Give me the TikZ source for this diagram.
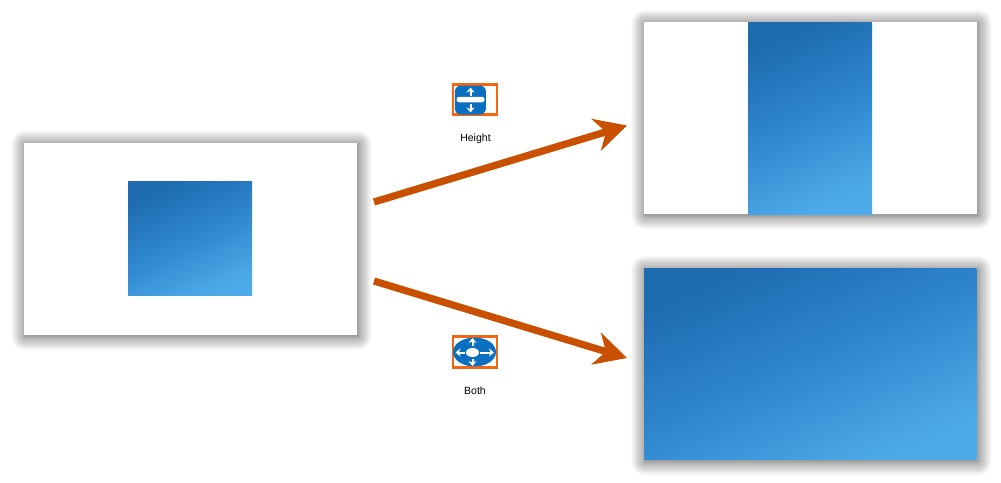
\documentclass[tikz,border=0pt]{standalone}
\usepackage{fontspec}
\setmainfont{Liberation Sans}
\usetikzlibrary{arrows.meta,backgrounds,shapes.geometric}
\definecolor{gradA}{HTML}{1E6BB0}
\definecolor{gradM}{HTML}{2F87CE}
\definecolor{gradB}{HTML}{4DAAE8}
\definecolor{arrowOrange}{HTML}{C85000}
\definecolor{iconBlue}{HTML}{0A6FC0}
\definecolor{iconFrame}{HTML}{F4660F}
\tikzset{
  panel/.style={rectangle,fill=white,inner sep=0pt,outer sep=0pt,minimum width=333pt,minimum height=192pt},
  bluegrad/.style={rectangle,inner sep=0pt,outer sep=0pt,top color=gradA,bottom color=gradB,middle color=gradM,shading angle=24},
  bigarrow/.style={draw=arrowOrange,line width=7.2pt,-{Stealth[length=32pt,width=33pt,inset=10pt]}},
  iconframe/.style={rectangle,draw=iconFrame,line width=2.6pt,inner sep=0pt,outer sep=0pt,minimum width=44pt,minimum height=30pt},
  whitearrow/.style={draw=white,line width=2pt,-{Stealth[length=5pt,width=8pt]}},
  caption/.style={font=\fontsize{10.5pt}{12pt}\selectfont,text=black,inner sep=0pt}
}
\newcommand{\softshadow}[1]{%
  \begin{scope}[on background layer]
    \foreach \i in {1,...,40}{%
      \pgfmathsetmacro{\d}{14*(\i/40)^1.5}
      \fill[black,opacity=0.0115,rounded corners=\d pt]
        ([shift={(-\d pt+1pt,-\d pt-1.5pt)}]#1.south west) rectangle ([shift={(\d pt+1pt,\d pt-1.5pt)}]#1.north east);
    }
  \end{scope}}
\begin{document}
\begin{tikzpicture}[x=1pt,y=-1pt]
\useasboundingbox (0,0) rectangle (1001,482);

\node[panel] (src) at (190.5,239) {};
\node[panel] (top) at (810.5,118) {};
\node[panel] (bot) at (810.5,364) {};
\softshadow{src}
\softshadow{top}
\softshadow{bot}

\node[bluegrad,minimum width=124pt,minimum height=114.5pt] (srcfill) at (190,238.5) {};
\node[bluegrad,minimum width=124pt,minimum height=192.4pt] (topfill) at (810,118.3) {};
\node[bluegrad,minimum width=332.6pt,minimum height=191.4pt] (botfill) at (810.3,363.8) {};

\coordinate (a1s) at (374,202);
\coordinate (a1e) at (627,125.5);
\coordinate (a2s) at (374,281);
\coordinate (a2e) at (627,358);
\draw[bigarrow] (a1s) -- (a1e);
\draw[bigarrow] (a2s) -- (a2e);

% Height icon
\node[iconframe] (hframe) at (475,99.5) {};
\node[rectangle,rounded corners=6pt,fill=iconBlue,minimum width=31pt,minimum height=29pt,inner sep=0pt] (hicon) at (470.4,100) {};
\node[rectangle,rounded corners=2.5pt,fill=white,minimum width=28pt,minimum height=5.5pt,inner sep=0pt] (hbar) at (470.5,99.5) {};
\coordinate (hu1) at (470.5,95.5);
\coordinate (hu2) at (470.5,87.5);
\coordinate (hd1) at (470.5,103.5);
\coordinate (hd2) at (470.5,112.5);
\draw[whitearrow] (hu1) -- (hu2);
\draw[whitearrow] (hd1) -- (hd2);
\node[caption] (hlabel) at (475.5,139) {Height};

% Both icon
\node[iconframe,minimum height=31pt] (bframe) at (475,352) {};
\node[ellipse,fill=iconBlue,minimum width=43pt,minimum height=29pt,inner sep=0pt] (bicon) at (474.5,352) {};
\node[ellipse,fill=white,minimum width=13pt,minimum height=9pt,inner sep=0pt] (bhub) at (472.5,352.5) {};
\coordinate (bl1) at (465,352.5);
\coordinate (bl2) at (455.5,352.5);
\coordinate (br1) at (480,352.5);
\coordinate (br2) at (494,352.5);
\coordinate (bu1) at (472.5,346);
\coordinate (bu2) at (472.5,338);
\coordinate (bd1) at (472.5,359);
\coordinate (bd2) at (472.5,366);
\draw[whitearrow] (bl1) -- (bl2);
\draw[whitearrow] (br1) -- (br2);
\draw[whitearrow] (bu1) -- (bu2);
\draw[whitearrow] (bd1) -- (bd2);
\node[caption] (blabel) at (475,391) {Both};
\end{tikzpicture}
\end{document}
